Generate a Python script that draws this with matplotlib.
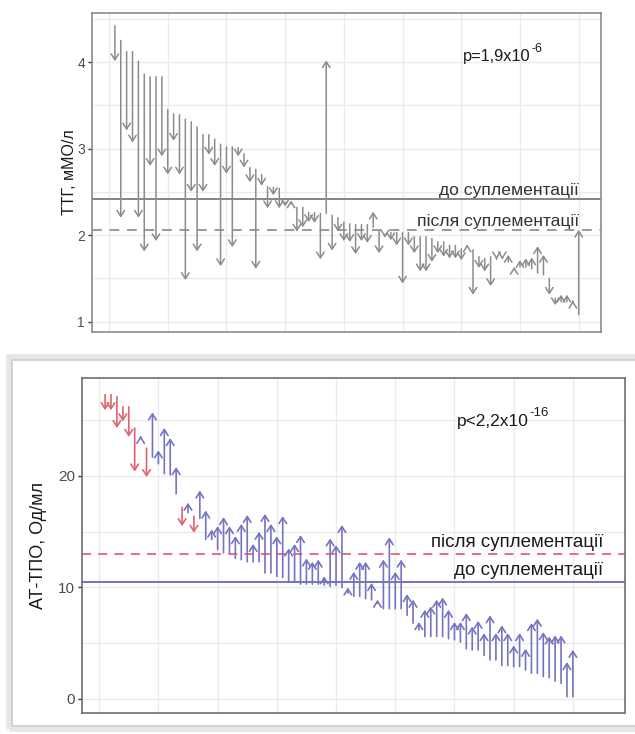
import matplotlib
matplotlib.use("Agg")
import matplotlib.pyplot as plt
from matplotlib.patches import FancyArrowPatch, Rectangle
import numpy as np

plt.rcParams['font.family'] = ['Liberation Sans', 'DejaVu Sans']

# ---------------- data: TSH (ТТГ) ----------------
tsh_before = [4.42, 4.25, 4.12, 4.12, 4.01, 3.86, 3.83, 3.83, 3.83, 3.45,
              3.40, 3.39, 3.34, 3.31, 3.25, 3.16, 3.16, 3.11, 3.05, 3.02,
              3.02, 3.01, 2.94, 2.78, 2.76, 2.70, 2.56, 2.55, 2.54, 2.38,
              2.36, 2.32, 2.32, 2.26, 2.26, 2.25, 2.25, 2.23, 2.20, 2.15,
              2.13, 2.12, 2.12, 2.12, 2.09, 2.05, 2.01, 2.03, 2.03, 2.03,
              2.03, 1.98, 1.98, 1.98, 1.96, 1.92, 1.92, 1.88, 1.88, 1.84,
              1.86, 1.83, 1.75, 1.73, 1.75, 1.73, 1.74, 1.69, 1.60, 1.63,
              1.63, 1.61, 1.56, 1.54, 1.50, 1.27, 1.23, 1.23, 1.23, 1.08]
tsh_after = [4.01, 2.20, 3.21, 3.07, 2.20, 1.81, 2.80, 1.93, 2.91, 2.70,
             3.09, 2.70, 1.48, 2.50, 1.81, 2.50, 2.93, 2.80, 1.64, 2.71,
             1.86, 2.91, 2.78, 2.61, 1.61, 2.57, 2.31, 2.46, 2.31, 2.33,
             2.40, 2.04, 2.09, 2.15, 2.14, 1.72, 4.02, 1.82, 2.04, 1.93,
             1.92, 1.78, 1.93, 1.91, 2.27, 1.79, 1.97, 1.94, 1.88, 1.44,
             1.88, 1.79, 1.58, 1.58, 1.69, 1.79, 1.75, 1.73, 1.73, 1.71,
             1.89, 1.31, 1.62, 1.58, 1.41, 1.72, 1.72, 1.77, 1.63, 1.71,
             1.73, 1.74, 1.87, 1.77, 1.31, 1.19, 1.31, 1.31, 1.24, 2.06]
tsh_mean_before = 2.42
tsh_mean_after = 2.06
tsh_p_main, tsh_p_exp = 'p=1,9x10', '-6'

# ---------------- data: anti-TPO (АТ-ТПО) ----------------
tpo_before = [27.3, 27.3, 27.1, 26.2, 26.2, 24.3, 23.4, 22.5, 21.7, 21.1,
              20.2, 20.1, 18.4, 17.2, 16.7, 16.4, 16.2, 14.3, 14.3, 13.4,
              13.1, 13.1, 12.6, 12.5, 12.3, 12.3, 12.3, 11.3, 11.3, 11.0,
              10.9, 10.5, 10.5, 10.3, 10.3, 10.3, 10.3, 10.2, 10.1, 10.2,
              10.0, 9.5, 9.2, 9.2, 9.0, 8.9, 8.6, 8.1, 8.1, 8.1,
              8.1, 7.5, 6.8, 6.2, 5.6, 5.6, 5.6, 5.6, 5.4, 5.3,
              5.1, 4.5, 4.4, 4.4, 3.9, 3.5, 3.5, 3.0, 3.0, 2.9,
              2.9, 2.6, 2.3, 2.3, 2.0, 1.9, 1.6, 1.4, 0.2, 0.2]
tpo_after = [25.9, 25.9, 24.3, 24.9, 23.5, 20.4, 23.6, 19.9, 25.7, 22.3,
             24.3, 23.4, 20.8, 15.5, 17.6, 14.9, 18.7, 16.9, 15.2, 15.5,
             16.3, 15.5, 14.6, 15.7, 16.5, 13.9, 15.0, 16.6, 15.7, 14.6,
             16.4, 13.5, 13.9, 14.7, 12.6, 12.3, 12.5, 11.0, 14.4, 13.8,
             15.6, 10.0, 11.4, 12.3, 12.3, 10.4, 8.9, 12.5, 14.5, 11.4,
             12.5, 9.4, 8.9, 6.9, 8.0, 8.3, 8.9, 9.1, 8.0, 6.9,
             6.9, 7.7, 6.5, 7.0, 5.9, 7.5, 5.9, 6.6, 5.9, 4.8,
             5.9, 4.5, 6.8, 7.2, 6.0, 5.6, 5.7, 5.7, 3.3, 4.4]
tpo_mean_before = 10.5
tpo_mean_after = 13.0
tpo_p_main, tpo_p_exp = 'p<2,2x10', '-16'

label_before = 'до суплементації'
label_after = 'після суплементації'

W, H = 635, 734
fig = plt.figure(figsize=(W / 100, H / 100), dpi=100)


def frac(x0, y0, x1, y1):
    return [x0 / W, 1 - y1 / H, (x1 - x0) / W, (y1 - y0) / H]


GRID = '#ebebeb'


def style_axes(ax, spine_col):
    ax.set_facecolor('white')
    for s in ax.spines.values():
        s.set_color(spine_col)
        s.set_linewidth(1.2)
    ax.tick_params(axis='x', length=0, labelbottom=False)
    ax.tick_params(axis='y', length=3, width=1, color='#333333',
                   labelsize=10, labelcolor='#4d4d4d', pad=2)
    ax.set_axisbelow(True)


def draw_arrows(ax, x, before, after, colors, lw=1.1):
    for xi, b, a, c in zip(x, before, after, colors):
        arr = FancyArrowPatch((xi, b), (xi, a),
                              arrowstyle='->,head_length=0.42,head_width=0.27',
                              mutation_scale=10, color=c, lw=lw,
                              shrinkA=0, shrinkB=0, zorder=3)
        ax.add_patch(arr)


def p_text(ax, x, y, main, exp, size):
    t = ax.text(x, y, main, ha='left', va='center', fontsize=size,
                color='#1a1a1a')
    ax.annotate(exp, xy=(1, 1), xycoords=t, xytext=(0.8, 0.5),
                textcoords='offset points', ha='left', va='center',
                fontsize=size * 0.76, color='#1a1a1a')


# ---------------- top panel ----------------
ax1 = fig.add_axes(frac(92, 13, 601, 332))
style_axes(ax1, '#8c8c8c')
n1 = len(tsh_before)
x1 = np.arange(1, n1 + 1)
ax1.set_xlim(-2.9, 83.8)
ax1.set_ylim(0.879, 4.567)
ax1.set_yticks([1, 2, 3, 4])
ax1.set_yticks([1.5, 2.5, 3.5, 4.5], minor=True)
ax1.set_xticks(np.arange(0, 81, 10))
ax1.tick_params(axis='y', which='minor', length=0)
ax1.grid(True, which='both', color=GRID, lw=1.0)
ax1.axhline(tsh_mean_before, color='#858585', lw=1.4, zorder=2)
ax1.axhline(tsh_mean_after, color='#9a9a9a', lw=1.4, ls=(0, (5, 4)), zorder=2)
draw_arrows(ax1, x1, tsh_before, tsh_after, ['#8c8c8c'] * n1)
ax1.text(80, tsh_mean_before + 0.01, label_before, ha='right', va='bottom',
         fontsize=12.6, color='#333333')
ax1.text(80, tsh_mean_after + 0.01, label_after, ha='right', va='bottom',
         fontsize=12.6, color='#333333')
p_text(ax1, 60.2, 4.06, tsh_p_main, tsh_p_exp, 11.8)
ax1.set_ylabel('ТТГ, мМО/л', fontsize=11.5, color='#1a1a1a', labelpad=0)

# ---------------- bottom panel ----------------
# outer frame of the inset picture
fig.patches.append(Rectangle((9 / W, 1 - 729 / H), 640 / W, 372 / H,
                             transform=fig.transFigure, fill=False,
                             edgecolor='#e6e6e6', lw=4, zorder=0))
fig.patches.append(Rectangle((12 / W, 1 - 726 / H), 640 / W, 366 / H,
                             transform=fig.transFigure, fill=False,
                             edgecolor='#cfcfcf', lw=1.3, zorder=0))

ax2 = fig.add_axes(frac(82, 378, 625, 713))
style_axes(ax2, '#6e6e6e')
n2 = len(tpo_before)
x2 = np.arange(1, n2 + 1)
ax2.set_xlim(-2.9, 88.8)
ax2.set_ylim(-1.26, 28.79)
ax2.set_yticks([0, 10, 20])
ax2.set_yticks([5, 15, 25], minor=True)
ax2.set_xticks(np.arange(0, 81, 10))
ax2.tick_params(axis='y', which='minor', length=0)
ax2.tick_params(axis='y', labelsize=11)
ax2.grid(True, which='both', color=GRID, lw=1.0)
RED = '#e0646f'
BLUE = '#7673c0'
ax2.axhline(tpo_mean_before, color=BLUE, lw=1.4, zorder=2)
ax2.axhline(tpo_mean_after, color=RED, lw=1.3, ls=(0, (5, 4)), zorder=2)
cols2 = [BLUE if a >= b else RED for b, a in zip(tpo_before, tpo_after)]
draw_arrows(ax2, x2, tpo_before, tpo_after, cols2, lw=1.2)
ax2.text(85.1, tpo_mean_after + 0.3, label_after, ha='right', va='bottom',
         fontsize=13.5, color='#1a1a1a')
ax2.text(85.1, tpo_mean_before + 0.3, label_before, ha='right', va='bottom',
         fontsize=13.5, color='#1a1a1a')
p_text(ax2, 60.4, 24.9, tpo_p_main, tpo_p_exp, 12.5)
ax2.set_ylabel('АТ-ТПО, Од/мл', fontsize=13, color='#1a1a1a', labelpad=8)

fig.savefig('out.png', dpi=100)
